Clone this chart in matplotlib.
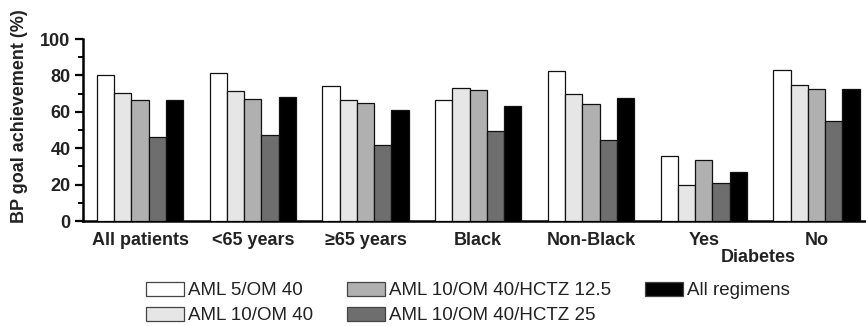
import matplotlib
matplotlib.use("Agg")
import matplotlib.pyplot as plt
import matplotlib.transforms as mtransforms
from matplotlib.ticker import MultipleLocator
import numpy as np

plt.rcParams["font.family"] = ["Liberation Sans", "DejaVu Sans"]

categories = ["All patients", "<65 years", "\u226565 years", "Black",
              "Non-Black", "Yes", "No"]
regimens = ["AML 5/OM 40", "AML 10/OM 40", "AML 10/OM 40/HCTZ 12.5",
            "AML 10/OM 40/HCTZ 25", "All regimens"]

aml5_om40       = [80.0, 81.1, 74.2, 66.5, 82.4, 35.9, 83.2]
aml10_om40      = [70.3, 71.4, 66.5, 73.1, 69.6, 19.8, 74.9]
aml10_hctz12    = [66.5, 67.0, 64.8, 71.8, 64.3, 33.7, 72.3]
aml10_hctz25    = [46.2, 47.4, 41.6, 49.5, 44.3, 20.7, 54.9]
all_regimens    = [66.5, 67.9, 60.8, 63.2, 67.6, 26.7, 72.7]

series = [aml5_om40, aml10_om40, aml10_hctz12, aml10_hctz25, all_regimens]
colors = ["#ffffff", "#e6e6e6", "#b0b0b0", "#6e6e6e", "#000000"]

W, H = 866, 326
fig = plt.figure(figsize=(W / 100, H / 100), dpi=100)
ax = fig.add_axes([83 / W, 1 - 221 / H, (W - 83) / W, (221 - 39) / H])

x = np.arange(len(categories))
bw = 0.153
for i, (vals, col) in enumerate(zip(series, colors)):
    ax.bar(x + (i - 2) * bw, vals, bw, color=col, edgecolor="#111111",
           linewidth=0.9, label=regimens[i], zorder=3)

ax.set_xlim(-0.506, 6.44)
ax.set_ylim(0, 100)
ax.yaxis.set_major_locator(MultipleLocator(20))
ax.yaxis.set_minor_locator(MultipleLocator(10))
ax.set_xticks(x)
ax.set_xticklabels(categories, fontsize=13, fontweight="bold", color="#222222")
ax.tick_params(axis="x", length=0, pad=8)
ax.tick_params(axis="y", which="major", length=6, width=1.6, labelsize=13,
               pad=3, labelcolor="#222222")
ax.tick_params(axis="y", which="minor", length=3.5, width=1.4)
for lbl in ax.get_yticklabels():
    lbl.set_fontweight("bold")
for s in ["top", "right"]:
    ax.spines[s].set_visible(False)
ax.spines["left"].set_linewidth(1.8)
ax.spines["bottom"].set_linewidth(1.8)

fig.text(20 / W, 1 - 116 / H, "BP goal achievement (%)", rotation=90,
         ha="center", va="center", fontsize=13, fontweight="bold",
         color="#222222")

trans = mtransforms.blended_transform_factory(ax.transData, fig.transFigure)
ax.text(5.48, 1 - 258 / H, "Diabetes", transform=trans, ha="center",
        va="center", fontsize=13, fontweight="bold", color="#222222")

leg = fig.legend(loc="upper left", bbox_to_anchor=(146 / W, 1 - 282 / H),
                 ncol=3, frameon=False, fontsize=13.5, borderpad=0,
                 borderaxespad=0, handlelength=2.0, handleheight=0.75,
                 handletextpad=0.25, columnspacing=1.8, labelspacing=0.4,
                 labelcolor="#222222")
for p in leg.get_patches():
    p.set_edgecolor("#444444")

fig.savefig("out.png", dpi=100)
